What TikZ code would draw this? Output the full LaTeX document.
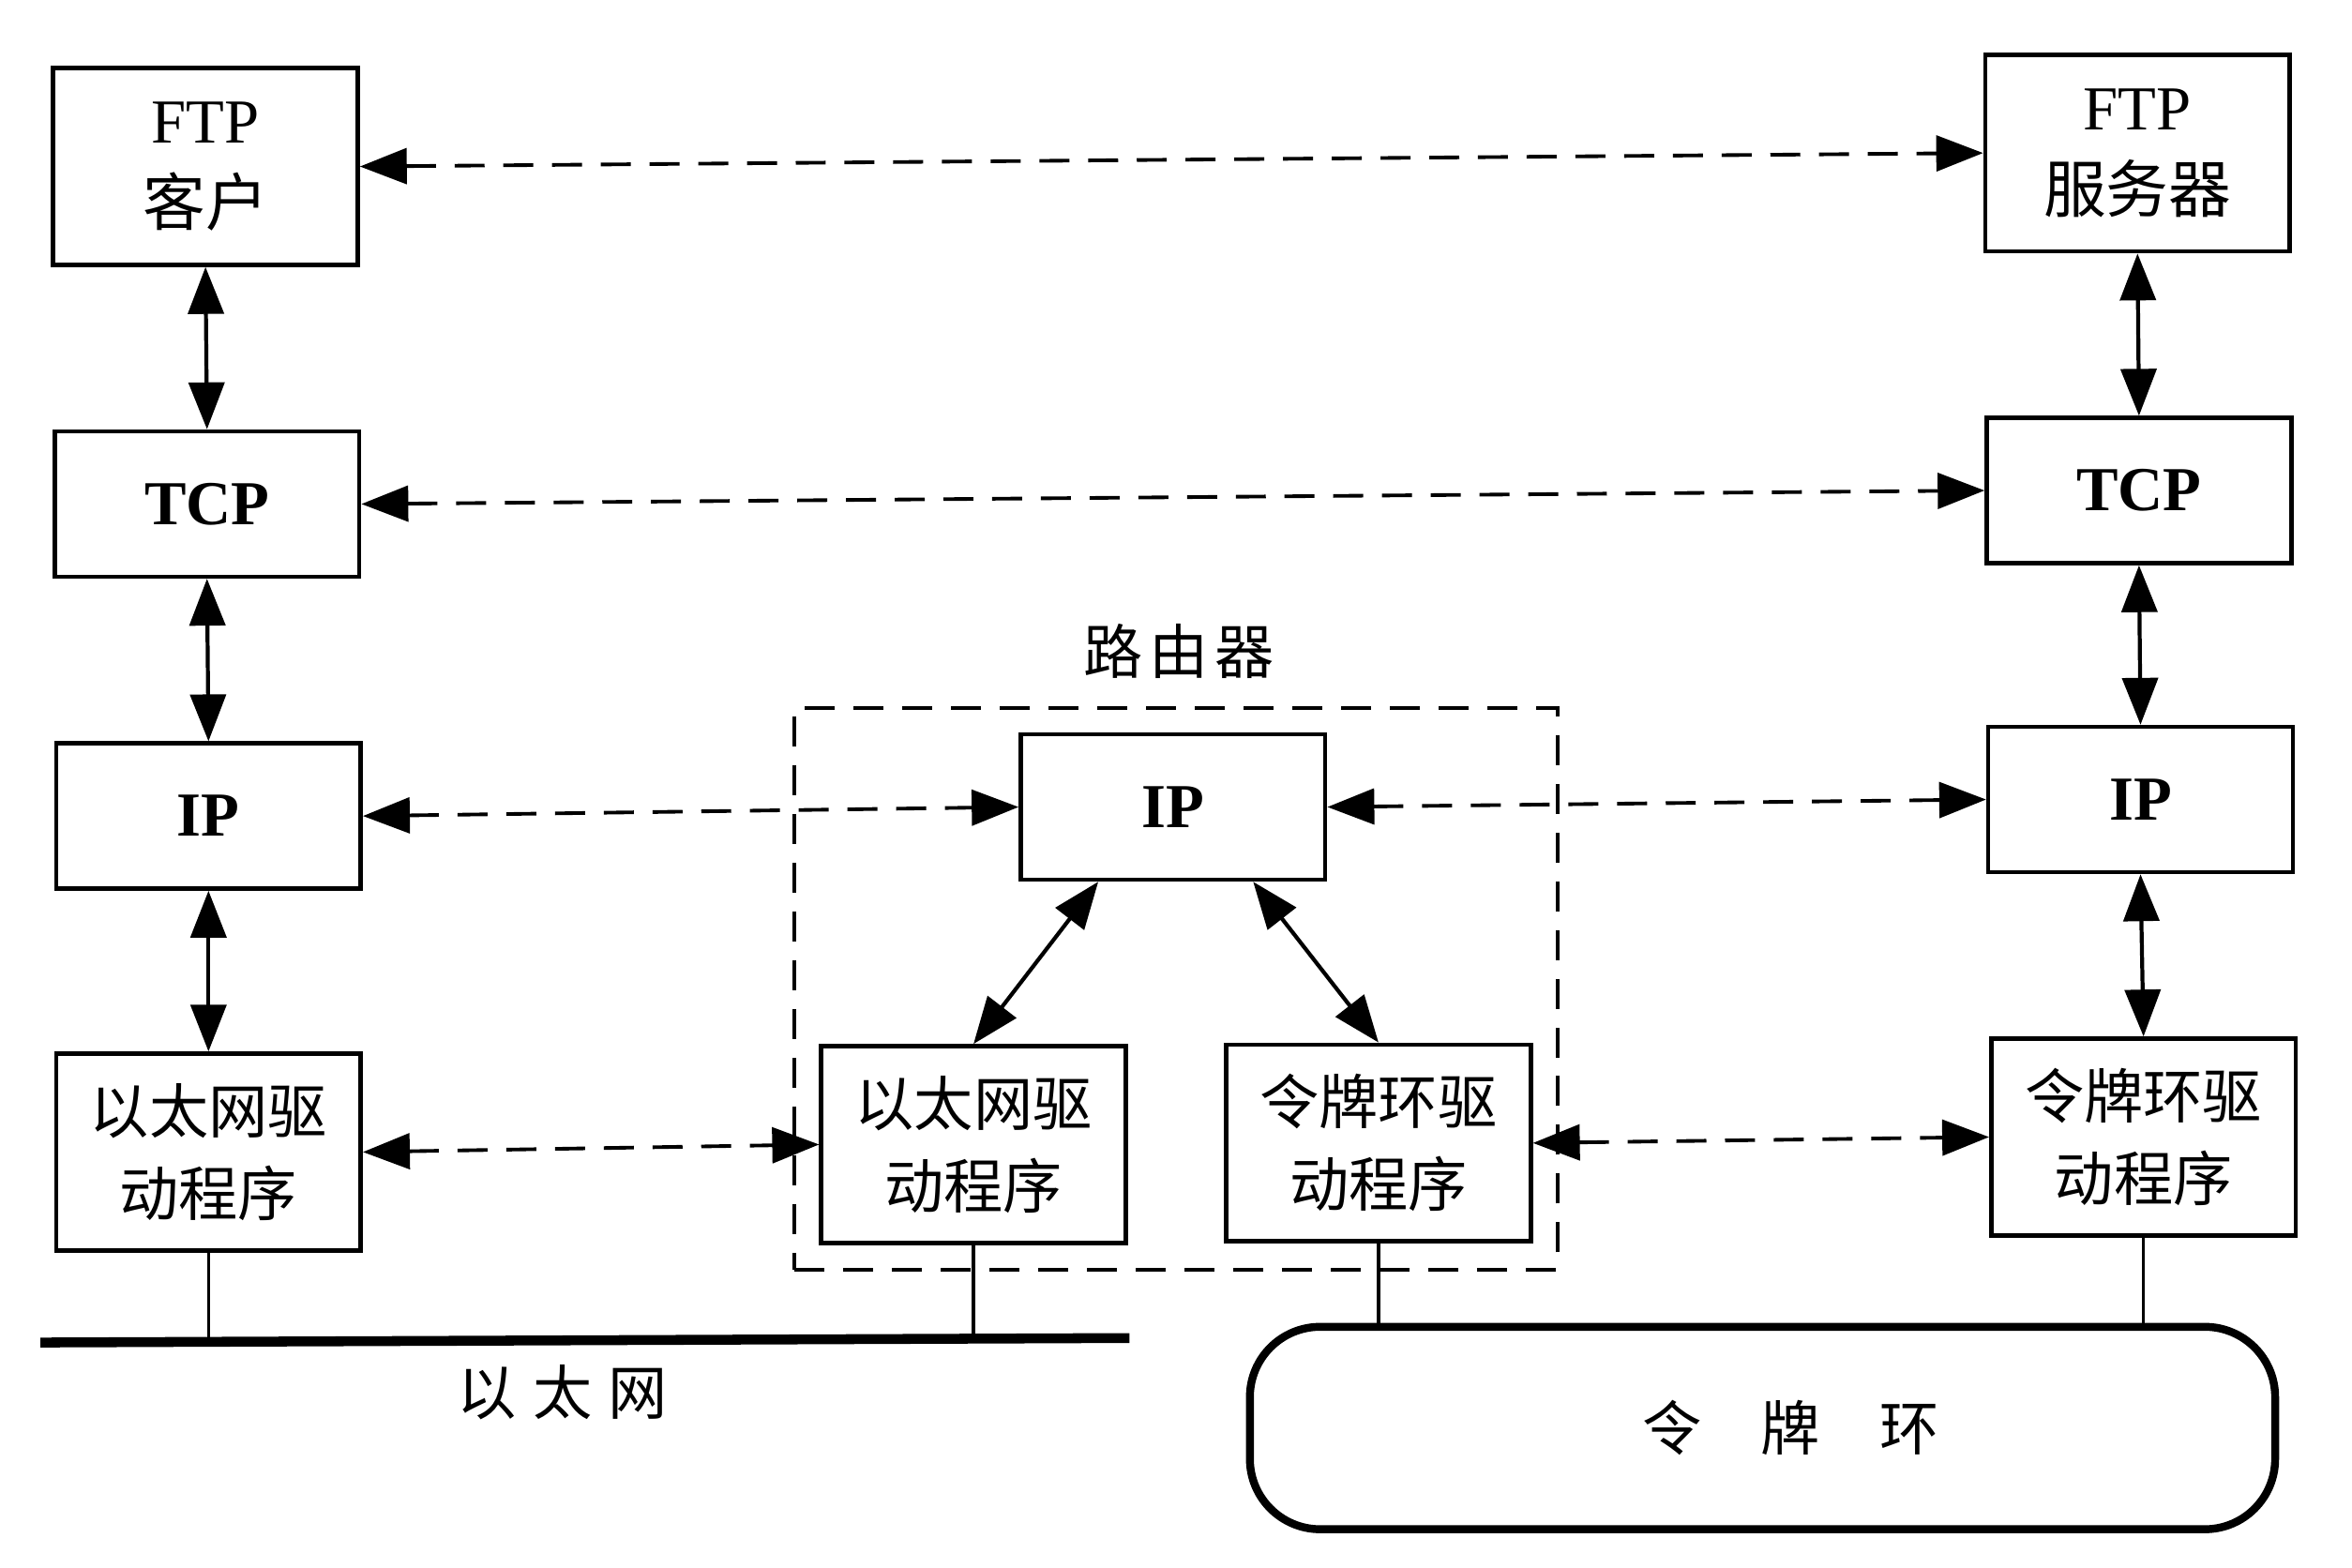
\documentclass[tikz,border=0pt]{standalone}
\usepackage{fontspec}
\setmainfont{Liberation Serif}
\newfontfamily\cjk{Noto Sans CJK SC}
\usetikzlibrary{arrows.meta,fit}

\tikzset{
  layer/.style={draw, line width=1.3pt, minimum width=3.25cm, minimum height=1.55cm,
    align=center, inner sep=0pt, font=\fontsize{19}{25}\selectfont},
  tall/.style={layer, minimum height=2.1cm},
  drv/.style={tall, font=\cjk\fontsize{18}{25}\selectfont},
  peer/.style={line width=1.1pt, dash pattern=on 3.2mm off 2mm, {Triangle[length=5mm,width=3.8mm]}-{Triangle[length=5mm,width=3.8mm]}},
  stack/.style={line width=1.2pt, {Triangle[length=5mm,width=3.8mm]}-{Triangle[length=5mm,width=3.8mm]}},
  lbl/.style={font=\cjk\fontsize{18}{22}\selectfont}
}

\begin{document}
\begin{tikzpicture}[x=0.016cm, y=-0.016cm]
  \useasboundingbox (0,0) rectangle (1568,1045);

  % client host
  \node[tall] (ftpCli) at (137,111) {FTP\\{\cjk 客户}};
  \node[layer] (tcpCli) at (138,336) {\textbf{TCP}};
  \node[layer] (ipCli) at (139,544) {\textbf{IP}};
  \node[drv] (ethCli) at (139,768) {以太网驱\\动程序};

  % router
  \node[layer] (ipRt) at (782,538) {\textbf{IP}};
  \node[drv] (ethRt) at (649,763) {以太网驱\\动程序};
  \node[drv] (tokRt) at (919,762) {令牌环驱\\动程序};
  \node[draw, line width=1.1pt, dash pattern=on 3.2mm off 2mm, inner sep=0.26cm,
    fit=(ipRt)(ethRt)(tokRt)] (router) {};
  \node[lbl] (routerLbl) at (786,434) {路\hspace{2pt}由\hspace{2pt}器};

  % server host
  \node[tall] (ftpSrv) at (1425,102) {FTP\\{\cjk 服务器}};
  \node[layer] (tcpSrv) at (1426,327) {\textbf{TCP}};
  \node[layer] (ipSrv) at (1427,533) {\textbf{IP}};
  \node[drv] (tokSrv) at (1429,758) {令牌环驱\\动程序};

  % networks
  \coordinate (ethA) at (27,895);
  \coordinate (ethB) at (753,892);
  \draw[line width=3pt] (ethA) -- (ethB);
  \node[lbl] (ethLbl) at (375,928) {以\hspace{5pt}太\hspace{5pt}网};
  \node[draw, line width=2.4pt, rounded corners=0.75cm, minimum width=10.94cm,
    minimum height=2.16cm, lbl] (ring) at (1175,952) {\hspace{0.6cm}令\quad 牌\quad 环};

  % vertical stacks
  \draw[stack] (ftpCli.south) -- (tcpCli.north);
  \draw[stack] (tcpCli.south) -- (ipCli.north);
  \draw[stack] (ipCli.south) -- (ethCli.north);
  \draw[stack] (ftpSrv.south) -- (tcpSrv.north);
  \draw[stack] (tcpSrv.south) -- (ipSrv.north);
  \draw[stack] (ipSrv.south) -- (tokSrv.north);
  \draw[stack] (ipRt.-135) -- (ethRt.north);
  \draw[stack] (ipRt.-43) -- (tokRt.north);

  % peer protocols
  \draw[peer] (ftpCli.east) -- (ftpSrv.west);
  \draw[peer] (tcpCli.east) -- (tcpSrv.west);
  \draw[peer] (ipCli.east) -- (ipRt.west);
  \draw[peer] (ipRt.east) -- (ipSrv.west);
  \draw[peer] (ethCli.east) -- (ethRt.west);
  \draw[peer] (tokRt.east) -- (tokSrv.west);

  % attachments
  \draw[line width=1pt] (ethCli.south) -- (ethCli.south |- ethA);
  \draw[line width=1pt] (ethRt.south) -- (ethRt.south |- ethB);
  \draw[line width=1pt] (tokRt.south) -- (tokRt.south |- ring.north);
  \draw[line width=1pt] (tokSrv.south) -- (tokSrv.south |- ring.north);
\end{tikzpicture}
\end{document}
